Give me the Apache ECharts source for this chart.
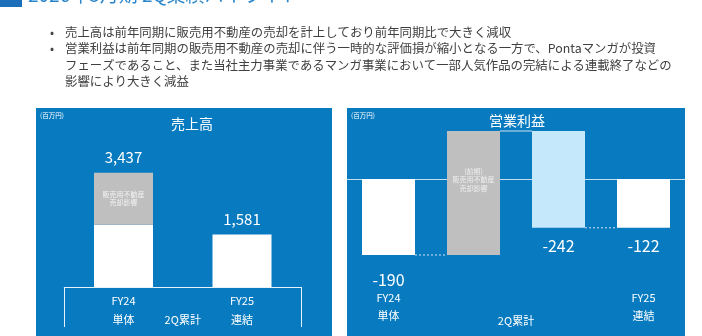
<!DOCTYPE html>
<html>
<head>
<meta charset="utf-8">
<script src="https://cdn.jsdelivr.net/npm/echarts@6/dist/echarts.min.js"></script>
<style>
html, body { margin: 0; padding: 0; background: #fff; }
#main { width: 702px; height: 336px; }
</style>
</head>
<body>
<div id="main"></div>
<script>
var pageTitle = '2026年3月期 2Q業績ハイライト';
var bullets = [
  ['•', '売上高は前年同期に販売用不動産の売却を計上しており前年同期比で大きく減収'],
  ['•', '営業利益は前年同期の販売用不動産の売却に伴う一時的な評価損が縮小となる一方で、Pontaマンガが投資'],
  ['', 'フェーズであること、また当社主力事業であるマンガ事業において一部人気作品の完結による連載終了などの'],
  ['', '影響により大きく減益']
];

// 売上高
var salesCats = ['FY24', 'FY25'];
var salesSubs = ['単体', '連結'];
var salesBase = [1870, 1581];
var salesImpact = [1567, null];
var salesTotal = [3437, 1581];

// 営業利益 (waterfall)
var profitCats = ['FY24', '前期影響', '減益要因', 'FY25'];
var profitSubs = ['単体', '', '', '連結'];
var profitHelper = [0, -190, 120, 0];
var profitDelta = [-190, 310, -242, -122];
var profitNote = '(前期)\n販売用不動産\n売却影響';
// connector levels between neighbouring bars: [from bar index, level]
var profitSteps = [[0, -190], [1, 120], [2, -122]];

var FONT = 'Noto Sans CJK JP';
var BLUE = '#087bc0';
var profitColors = ['#ffffff', '#bfbfbf', '#c6e8fb', '#ffffff'];
var PROFIT_BAR = 53;

var chart = echarts.init(document.getElementById('main'));

var graphics = [
  { type: 'rect', shape: { x: 36, y: 108, width: 296, height: 240 }, style: { fill: BLUE }, z: -10 },
  { type: 'rect', shape: { x: 347, y: 108, width: 338, height: 240 }, style: { fill: BLUE }, z: -10 },
  { type: 'rect', shape: { x: 0, y: 0, width: 22, height: 7 }, style: { fill: '#1c6fb8' } },
  { type: 'text', x: 28, y: -5, style: { text: pageTitle, fill: '#2a86cc', font: '19px "' + FONT + '"', textVerticalAlign: 'middle' } },
  { type: 'text', x: 40, y: 116, style: { text: '(百万円)', fill: '#fff', font: '6.5px "' + FONT + '"', textVerticalAlign: 'middle' } },
  { type: 'text', x: 351, y: 116, style: { text: '(百万円)', fill: '#fff', font: '6.5px "' + FONT + '"', textVerticalAlign: 'middle' } },
  { type: 'text', x: 192, y: 124, style: { text: '売上高', fill: '#fff', font: '14px "' + FONT + '"', textAlign: 'center', textVerticalAlign: 'middle' } },
  { type: 'text', x: 517, y: 121, style: { text: '営業利益', fill: '#fff', font: '14px "' + FONT + '"', textAlign: 'center', textVerticalAlign: 'middle' } },
  { type: 'line', shape: { x1: 64.5, y1: 287, x2: 64.5, y2: 327 }, style: { stroke: '#e8f2fa', lineWidth: 1 } },
  { type: 'line', shape: { x1: 301.5, y1: 287, x2: 301.5, y2: 327 }, style: { stroke: '#e8f2fa', lineWidth: 1 } }
];
bullets.forEach(function (b, i) {
  var y = 32 + i * 16.4;
  if (b[0]) {
    graphics.push({ type: 'text', x: 50, y: y, style: { text: b[0], fill: '#444', font: '12px "' + FONT + '"', textVerticalAlign: 'middle' } });
  }
  graphics.push({ type: 'text', x: 65, y: y, style: { text: b[1], fill: '#404040', font: '12.4px "' + FONT + '"', textVerticalAlign: 'middle' } });
});

var option = {
  backgroundColor: '#ffffff',
  textStyle: { fontFamily: FONT },
  animation: false,
  graphic: graphics,
  grid: [
    { left: 64.25, top: 154, width: 237, height: 133 },
    { left: 346, top: 99, width: 340, height: 188 }
  ],
  xAxis: [
    {
      type: 'category', gridIndex: 0, data: salesCats,
      axisLine: { lineStyle: { color: '#e8f2fa', width: 1 } },
      axisTick: { show: false },
      axisLabel: {
        color: '#fff', fontSize: 11, lineHeight: 19, margin: 4,
        formatter: function (v, i) { return v + '\n' + salesSubs[i]; }
      },
      name: '2Q累計', nameLocation: 'middle', nameGap: 27, nameMoveOverlap: false,
      nameTextStyle: { color: '#fff', fontSize: 11 }
    },
    {
      type: 'category', gridIndex: 1, data: profitCats,
      axisLine: { onZero: true, lineStyle: { color: 'rgba(255,255,255,0.75)', width: 1 } },
      axisTick: { show: false },
      axisLabel: { show: false }
    },
    {
      type: 'category', gridIndex: 1, data: profitCats, position: 'bottom',
      axisLine: { show: false, onZero: false },
      axisTick: { show: false },
      axisLabel: {
        color: '#fff', fontSize: 11, lineHeight: 18, margin: 2, interval: 0,
        formatter: function (v, i) { return profitSubs[i] ? v + '\n' + profitSubs[i] : ''; }
      },
      name: '2Q累計', nameLocation: 'middle', nameGap: 28, nameMoveOverlap: false,
      nameTextStyle: { color: '#fff', fontSize: 11 }
    }
  ],
  yAxis: [
    { type: 'value', gridIndex: 0, min: 0, max: 4000, show: false },
    { type: 'value', gridIndex: 1, min: -270, max: 200, show: false }
  ],
  series: [
    {
      name: '売上高', type: 'bar', xAxisIndex: 0, yAxisIndex: 0, stack: 's',
      data: salesBase, barWidth: 59, itemStyle: { color: '#ffffff' }
    },
    {
      name: '販売用不動産売却影響', type: 'bar', xAxisIndex: 0, yAxisIndex: 0, stack: 's',
      data: salesImpact, barWidth: 59, itemStyle: { color: '#bfbfbf' },
      label: {
        show: true, position: 'inside', formatter: '販売用不動産\n売却影響',
        color: '#f2f2f2', fontSize: 7, lineHeight: 8
      }
    },
    {
      name: '合計', type: 'bar', xAxisIndex: 0, yAxisIndex: 0,
      data: salesTotal, barWidth: 59, barGap: '-100%', z: 1,
      itemStyle: { color: 'rgba(0,0,0,0)' },
      label: {
        show: true, position: 'top', distance: 8, color: '#fff', fontSize: 15,
        formatter: function (p) { return p.value.toLocaleString('en-US'); }
      }
    },
    {
      name: 'helper', type: 'bar', xAxisIndex: 1, yAxisIndex: 1, stack: 'w', stackStrategy: 'all',
      data: profitHelper, barWidth: PROFIT_BAR, z: 1, silent: true,
      itemStyle: { color: 'rgba(0,0,0,0)' }
    },
    {
      name: '営業利益', type: 'bar', xAxisIndex: 1, yAxisIndex: 1, stack: 'w', stackStrategy: 'all',
      barWidth: PROFIT_BAR, z: 3,
      data: profitDelta.map(function (v, i) {
        var item = { value: v, itemStyle: { color: profitColors[i] } };
        if (i === 1) {
          item.label = {
            show: true, position: 'insideTop', distance: 36, formatter: profitNote,
            color: '#eeeeee', fontSize: 7, lineHeight: 8.5
          };
        } else {
          item.label = {
            show: true, position: 'bottom', distance: i === 0 ? 17 : 10, color: '#fff', fontSize: 16,
            formatter: String(v)
          };
        }
        return item;
      })
    },
    {
      name: 'connector', type: 'custom', xAxisIndex: 1, yAxisIndex: 1, z: 2, silent: true,
      data: profitSteps,
      renderItem: function (params, api) {
        var i = api.value(0), lv = api.value(1);
        var a = api.coord([i, lv]);
        var b = api.coord([i + 1, lv]);
        var half = PROFIT_BAR / 2;
        return {
          type: 'line',
          shape: { x1: a[0] + half, y1: a[1], x2: b[0] - half, y2: b[1] },
          style: {
            stroke: 'rgba(255,255,255,0.8)', lineWidth: 1,
            lineDash: params.dataIndex === 1 ? null : [2, 2]
          }
        };
      }
    }
  ]
};

chart.setOption(option);

window.addEventListener('resize', function () {
  chart.resize();
});
</script>
</body>
</html>
